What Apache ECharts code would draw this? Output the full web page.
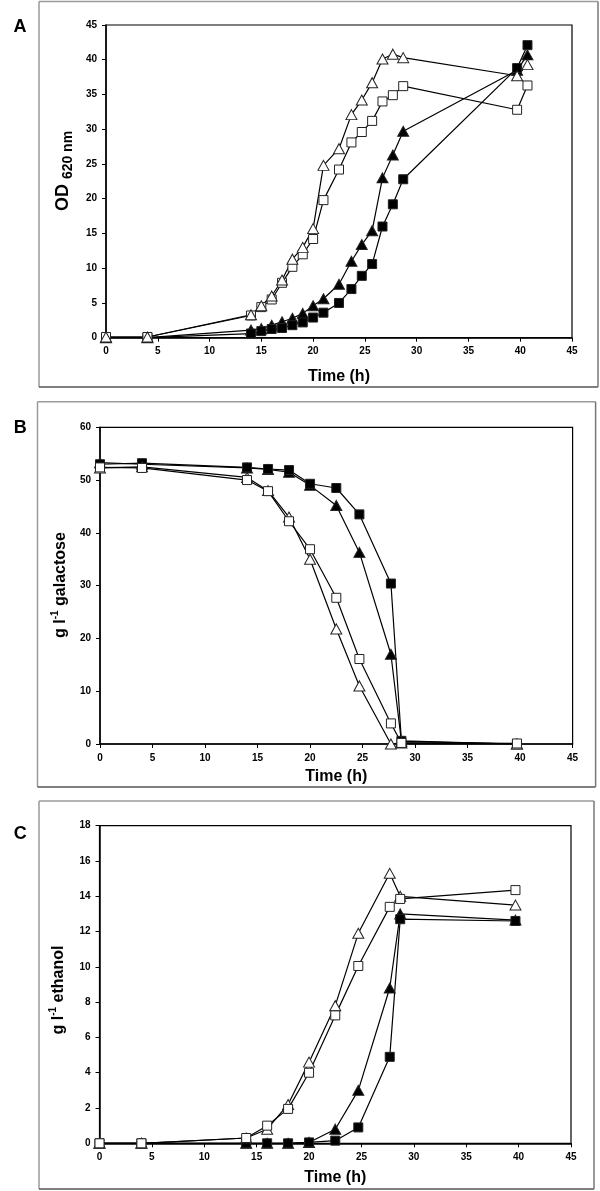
<!DOCTYPE html>
<html><head><meta charset="utf-8">
<script src="https://cdn.jsdelivr.net/npm/echarts@6/dist/echarts.min.js"></script>
<style>html,body{margin:0;padding:0;background:#fff}#c{width:600px;height:1191px}</style>
</head><body><div id="c"></div>
<script>
// ---- data ----
const timesA = [0,4,14,15,16,17,18,19,20,21,22.5,23.7,24.7,25.7,26.7,27.7,28.7,39.7,40.7];
const odOpenTri   = [0.1,0.1,3.3,4.6,6.0,8.3,11.3,13.0,15.7,24.8,27.2,32.1,34.2,36.7,40.1,40.8,40.3,37.7,39.3];
const odOpenSq    = [0.1,0.1,3.2,4.4,5.5,7.9,10.2,12.0,14.2,19.8,24.2,28.1,29.6,31.2,34.0,34.9,36.2,32.8,36.3];
const odFilledTri = [0,0,1.1,1.3,1.8,2.3,2.8,3.5,4.6,5.6,7.7,11.0,13.4,15.4,23.0,26.3,29.7,38.5,40.7];
const odFilledSq  = [0,0,0.6,0.95,1.25,1.4,1.8,2.2,2.9,3.6,5.0,7.0,8.9,10.6,16.0,19.2,22.8,38.8,42.1];

const timesBC = [0,4,14,16,18,20,22.5,24.7,27.7,28.7,39.7];
const galFilledSq  = [53.0,53.2,52.4,52.1,51.9,49.3,48.5,43.5,30.4,0.6,0];
const galFilledTri = [53.3,53.0,52.3,52.0,51.5,49.0,45.2,36.3,17.0,0.5,0];
const galOpenTri   = [52.3,52.5,50.5,48.0,43.0,35.0,21.8,11.0,0,0.2,0];
const galOpenSq    = [52.4,52.3,50.0,47.9,42.2,36.9,27.7,16.1,3.9,0.2,0.1];

const ethOpenTri   = [0,0,0.3,0.8,2.2,4.6,7.8,11.9,15.3,14.0,13.5];
const ethOpenSq    = [0,0,0.3,1.0,1.95,4.0,7.25,10.05,13.4,13.85,14.35];
const ethFilledTri = [0,0,0,0,0,0.05,0.8,3.0,8.8,13.0,12.65];
const ethFilledSq  = [0,0,0,0,0,0.05,0.15,0.9,4.9,12.7,12.6];

const panelLetters = ['A','B','C'];
const xTitle = 'Time (h)';

// ---- chart ----
const FONT = '"Liberation Sans", Arial, sans-serif';
const chart = echarts.init(document.getElementById('c'), null, {renderer:'canvas'});
const pair = (t, v) => t.map((x, i) => [x, v[i]]);

const grids = [
  {left:106, right:28, top:25, height:312.7},
  {left:100, right:27.4, top:427.3, height:316.7},
  {left:99.5, right:29, top:825.7, height:317.6}
];
const yRanges = [[0,45,5],[0,60,10],[0,18,2]];

const xAxes = grids.map((g,i)=>({
  gridIndex:i, type:'value', min:0, max:45, interval:5,
  axisLine:{show:true, onZero:false, lineStyle:{color:'#000', width:1.5}},
  axisTick:{show:true, inside:false, length:4, lineStyle:{color:'#000'}},
  axisLabel:{color:'#000', fontFamily:FONT, fontWeight:'bold', fontSize:10, margin:9},
  splitLine:{show:false}
}));
const yAxes = grids.map((g,i)=>({
  gridIndex:i, type:'value', min:yRanges[i][0], max:yRanges[i][1], interval:yRanges[i][2],
  axisLine:{show:true, onZero:false, lineStyle:{color:'#000', width:1.5}},
  axisTick:{show:true, inside:false, length:4, lineStyle:{color:'#000'}},
  axisLabel:{color:'#000', fontFamily:FONT, fontWeight:'bold', fontSize:10, margin:9},
  splitLine:{show:false}
}));

function ser(idx, t, v, sym, filled){
  return {
    type:'line', xAxisIndex:idx, yAxisIndex:idx, data:pair(t,v),
    symbol: sym==='sq' ? 'rect' : 'triangle',
    symbolSize: sym==='sq' ? 9 : [11,10],
    showAllSymbol:true, animation:false,
    lineStyle:{color:'#000', width:1.2},
    itemStyle:{color: filled ? '#000' : '#fff', borderColor:'#222', borderWidth:1, opacity:1},
    emphasis:{disabled:true}
  };
}
const series = [
  ser(0, timesA, odFilledTri, 'tri', true),
  ser(0, timesA, odFilledSq, 'sq', true),
  ser(0, timesA, odOpenSq, 'sq', false),
  ser(0, timesA, odOpenTri, 'tri', false),
  ser(1, timesBC, galFilledTri, 'tri', true),
  ser(1, timesBC, galFilledSq, 'sq', true),
  ser(1, timesBC, galOpenTri, 'tri', false),
  ser(1, timesBC, galOpenSq, 'sq', false),
  ser(2, timesBC, ethFilledTri, 'tri', true),
  ser(2, timesBC, ethFilledSq, 'sq', true),
  ser(2, timesBC, ethOpenTri, 'tri', false),
  ser(2, timesBC, ethOpenSq, 'sq', false)
];

// text measuring for rotated multi-part titles
const mctx = document.createElement('canvas').getContext('2d');
function tw(text, size){ mctx.font = 'bold ' + size + 'px ' + FONT; return mctx.measureText(text).width; }
function rotTitle(cx, cy, parts){
  const total = parts.reduce((s,p)=>s+tw(p.text,p.size),0);
  let x = -total/2;
  const children = parts.map(p=>{
    const el = {type:'text', x:x, y:p.dy||0, style:{text:p.text, fill:'#000', font:'bold '+p.size+'px '+FONT, align:'left', verticalAlign:'middle'}};
    x += tw(p.text,p.size);
    return el;
  });
  return {type:'group', x:cx, y:cy, rotation:Math.PI/2, children:children};
}
function frame(x1,y1,x2,y2){
  return [
    {type:'line', shape:{x1:x1,y1:y1,x2:x2,y2:y1}, style:{stroke:'#9a9a9a', lineWidth:1.5}},
    {type:'line', shape:{x1:x1,y1:y1,x2:x1,y2:y2}, style:{stroke:'#9a9a9a', lineWidth:1.5}},
    {type:'line', shape:{x1:x1,y1:y2,x2:x2,y2:y2}, style:{stroke:'#555', lineWidth:1.5}},
    {type:'line', shape:{x1:x2,y1:y1,x2:x2,y2:y2}, style:{stroke:'#777', lineWidth:1.5}}
  ];
}
function label(text, x, y, size){
  return {type:'text', x:x, y:y, style:{text:text, fill:'#000', font:'bold '+size+'px '+FONT, align:'center', verticalAlign:'middle'}};
}

const graphics = [].concat(
  frame(39,1.5,598,387), frame(37.5,401.7,595.6,787), frame(39,801,594,1189),
  [
    label(panelLetters[0], 20, 27, 18),
    label(panelLetters[1], 20.3, 428.5, 18),
    label(panelLetters[2], 20.3, 834, 18),
    label(xTitle, 339, 377, 16),
    label(xTitle, 336.3, 777, 16),
    label(xTitle, 335.3, 1178, 16),
    rotTitle(63.3, 171, [{text:'OD ', size:18},{text:'620 nm', size:14, dy:5}]),
    rotTitle(60.5, 585, [{text:'g l', size:16},{text:'-1', size:10, dy:-5},{text:' galactose', size:16}]),
    rotTitle(58.5, 990, [{text:'g l', size:16},{text:'-1', size:10, dy:-5},{text:' ethanol', size:16}])
  ]
);

chart.setOption({
  animation:false,
  backgroundColor:'#fff',
  grid: grids.map(g=>Object.assign({show:true, borderColor:'#000', borderWidth:1.2, backgroundColor:'transparent'}, g)),
  xAxis: xAxes, yAxis: yAxes, series: series,
  graphic: graphics
});
</script></body></html>
